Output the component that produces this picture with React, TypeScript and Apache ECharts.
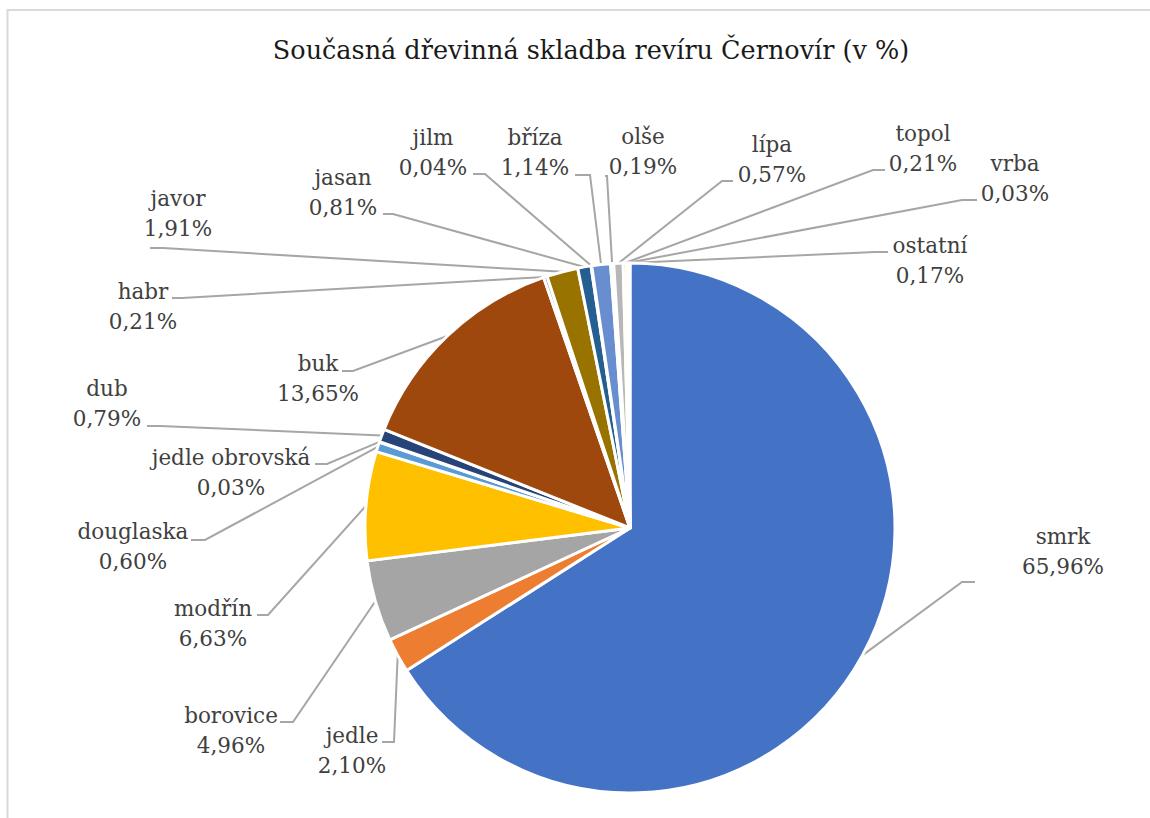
import React, { useEffect, useRef } from 'react';
import * as echarts from 'echarts';

const TITLE = 'Současná dřevinná skladba revíru Černovír (v %)';

const categories = [
  'smrk', 'jedle', 'borovice', 'modřín', 'douglaska', 'jedle obrovská', 'dub', 'buk', 'habr',
  'javor', 'jasan', 'jilm', 'bříza', 'olše', 'lípa', 'topol', 'vrba', 'ostatní',
];
const shares = [
  65.96, 2.10, 4.96, 6.63, 0.60, 0.03, 0.79, 13.65, 0.21,
  1.91, 0.81, 0.04, 1.14, 0.19, 0.57, 0.21, 0.03, 0.17,
];
const sliceColors = [
  '#4472C4', '#ED7D31', '#A5A5A5', '#FFC000', '#5B9BD5', '#70AD47', '#264478', '#9E480E', '#636363',
  '#997300', '#255E91', '#43682B', '#698ED0', '#F1975A', '#B7B7B7', '#FFCD33', '#7CAFDD', '#8CC168',
];

// label block centres (layout, not data)
const labelCenters: [number, number][] = [
  [1063, 551], [352, 750], [231, 730], [213, 623], [133, 546], [231, 472], [107, 403], [318, 378], [143, 306],
  [178, 213], [343, 192], [433, 152], [535, 152], [643, 151], [772, 159], [923, 148], [1015, 178], [930, 260],
];
// leader line bend and end points (layout)
const leaderBends: [number, number][] = [
  [962, 582], [394, 742], [293, 722], [268, 615], [205, 540], [327, 464], [160, 426], [353, 371], [182, 298],
  [163, 248], [393, 214], [485, 174], [590, 175], [607, 176], [722, 181], [873, 170], [962, 200], [875, 252],
];
const leaderEnds: [number, number][] = [
  [975, 582], [382, 742], [280, 722], [257, 615], [191, 540], [315, 464], [147, 426], [342, 371], [172, 298],
  [150, 248], [383, 214], [473, 174], [575, 175], [605, 176], [733, 181], [885, 170], [977, 200], [888, 252],
];

const fmt = (v: number) => v.toFixed(2).replace('.', ',') + '%';

export default function App() {
  const ref = useRef<HTMLDivElement>(null);
  useEffect(() => {
    if (!ref.current) return;
    const chart = echarts.init(ref.current, undefined, { renderer: 'svg' });
    chart.setOption({
      animation: false,
      backgroundColor: '#ffffff',
      title: {
        text: TITLE,
        left: 586,
        top: 32,
        textAlign: 'center',
        textStyle: { fontFamily: 'DejaVu Serif', fontSize: 25.5, fontWeight: 'normal', color: '#1a1a1a' },
      },
      graphic: [
        {
          type: 'rect',
          silent: true,
          shape: { x: 7.5, y: 10, width: 1300, height: 1000 },
          style: { fill: 'none', stroke: '#d9d9d9', lineWidth: 2 },
        },
      ],
      series: [
        {
          type: 'pie',
          center: [630, 528],
          radius: 265,
          startAngle: 90,
          clockwise: true,
          avoidLabelOverlap: false,
          itemStyle: { borderColor: '#ffffff', borderWidth: 3 },
          label: {
            show: true,
            position: 'outside',
            fontFamily: 'DejaVu Serif',
            fontSize: 21.5,
            lineHeight: 30,
            color: '#404040',
            formatter: (p: any) => p.name + '\n' + fmt(p.value),
          },
          labelLine: { show: true, length: 10, length2: 10, lineStyle: { color: '#a6a6a6', width: 2 } },
          labelLayout: (params: any) => {
            const i = params.dataIndex;
            const pts = params.labelLinePoints;
            const start = pts && pts[0] ? pts[0] : leaderBends[i];
            return {
              x: labelCenters[i][0],
              y: labelCenters[i][1],
              align: 'center',
              verticalAlign: 'middle',
              labelLinePoints: [start, leaderBends[i], leaderEnds[i]],
            };
          },
          emphasis: { disabled: true },
          data: categories.map((name, i) => ({
            name,
            value: shares[i],
            itemStyle: { color: sliceColors[i] },
          })),
        },
      ],
    });
    return () => chart.dispose();
  }, []);
  return (
    <div
      ref={ref}
      style={{ position: 'fixed', left: 0, top: 0, width: 1150, height: 818, background: '#fff' }}
    />
  );
}
